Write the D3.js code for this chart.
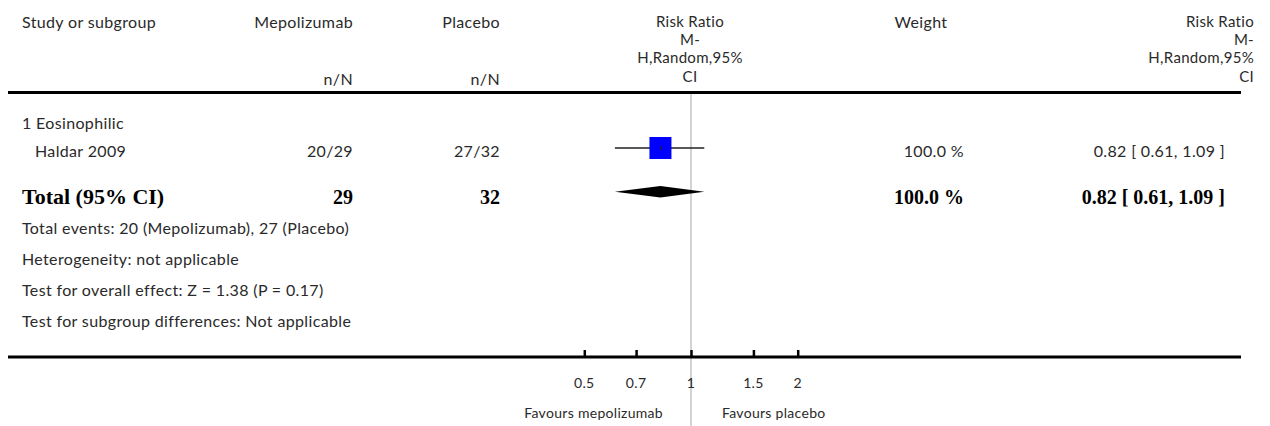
<!DOCTYPE html>
<html>
<head>
<meta charset="utf-8">
<script src="https://cdn.jsdelivr.net/npm/d3@7"></script>
<style>
  html, body { margin: 0; padding: 0; background: #fff; }
  svg { display: block; }
  .t { font-family: Lato, "Open Sans", sans-serif; font-size: 16px; letter-spacing: 0.35px; fill: #2a2a2a; }
  .h { font-family: Lato, "Open Sans", sans-serif; font-size: 15px; letter-spacing: 0.3px; fill: #2a2a2a; }
  .s { font-family: Lato, "Open Sans", sans-serif; font-size: 14px; letter-spacing: 0.3px; fill: #2a2a2a; }
  .b { font-family: "Liberation Serif", "DejaVu Serif", serif; font-size: 20px; font-weight: bold; fill: #000; }
</style>
</head>
<body>
<svg id="chart" width="1270" height="426"></svg>
<script>
// ---- data ----
const subgroups = ["1 Eosinophilic"];
const studies = ["Haldar 2009"];
const eventsTreat = [20];
const totalTreat = [29];
const eventsCtrl = [27];
const totalCtrl = [32];
const riskRatio = [0.82];
const ciLower = [0.61];
const ciUpper = [1.09];
const weights = [100.0];
const pooled = [0.82, 0.61, 1.09];   // estimate, lower, upper
const pooledTotals = [29, 32];
const pooledWeight = [100.0];
const axisTicks = [0.5, 0.7, 1, 1.5, 2];
const tickLabels = ["0.5", "0.7", "1", "1.5", "2"];
const favourLabels = ["Favours mepolizumab", "Favours placebo"];
const footnotes = [
  "Total events: 20 (Mepolizumab), 27 (Placebo)",
  "Heterogeneity: not applicable",
  "Test for overall effect: Z = 1.38 (P = 0.17)",
  "Test for subgroup differences: Not applicable"
];

// ---- layout ----
const svg = d3.select("#chart");
const x = d3.scaleLog().domain([0.5, 2]).range([584.3, 797.7]);
const boxSize = d3.scaleSqrt().domain([0, 100]).range([0, 22]);
const fmt = d3.format(".2f");
const fmtW = d3.format(".1f");

const colStudy = 22, colT = 353, colC = 500, colW = 964, colRR = 1225;

function txt(cls, xx, yy, s, anchor) {
  return svg.append("text").attr("class", cls).attr("x", xx).attr("y", yy)
    .attr("text-anchor", anchor || "start").text(s);
}

// header
txt("t", colStudy, 28, "Study or subgroup");
txt("t", colT, 28, "Mepolizumab", "end");
txt("t", colC, 28, "Placebo", "end");
txt("t", colT, 85, "n/N", "end");
txt("t", colC, 85, "n/N", "end");
const rrHead = ["Risk Ratio", "M-", "H,Random,95%", "CI"];
const rrHeadY = [27, 45, 63, 82];
rrHead.forEach((s, i) => {
  txt("h", 690, rrHeadY[i], s, "middle");
  txt("h", 1254, rrHeadY[i], s, "end");
});
txt("t", 921, 28, "Weight", "middle");

// reference line at RR = 1
svg.append("line").attr("x1", x(1)).attr("x2", x(1)).attr("y1", 94).attr("y2", 426)
  .attr("stroke", "#c4c4c4").attr("stroke-width", 1.5);

// rules
svg.append("line").attr("x1", 8).attr("x2", 1241).attr("y1", 92.5).attr("y2", 92.5)
  .attr("stroke", "#000").attr("stroke-width", 3);

// subgroup + studies
txt("t", colStudy, 129, subgroups[0]);
studies.forEach((s, i) => {
  const y = 157;
  txt("t", 35, y, s);
  txt("t", colT, y, eventsTreat[i] + "/" + totalTreat[i], "end");
  txt("t", colC, y, eventsCtrl[i] + "/" + totalCtrl[i], "end");
  txt("t", colW, y, fmtW(weights[i]) + " %", "end");
  txt("t", colRR, y, fmt(riskRatio[i]) + " [ " + fmt(ciLower[i]) + ", " + fmt(ciUpper[i]) + " ]", "end");
  const cy = 148;
  svg.append("line").attr("x1", x(ciLower[i])).attr("x2", x(ciUpper[i]))
    .attr("y1", cy).attr("y2", cy).attr("stroke", "#222").attr("stroke-width", 1.5);
  const bs = boxSize(weights[i]);
  svg.append("rect").attr("x", x(riskRatio[i]) - bs / 2).attr("y", cy - bs / 2)
    .attr("width", bs).attr("height", bs).attr("fill", "#0000ff");
  svg.append("line").attr("x1", x(riskRatio[i])).attr("x2", x(riskRatio[i]))
    .attr("y1", cy - 2.5).attr("y2", cy + 2.5).attr("stroke", "#222").attr("stroke-width", 1.2);
});

// total row
txt("b", colStudy, 204, "Total (95% CI)").style("font-size", "22px");
txt("b", colT, 204, pooledTotals[0], "end");
txt("b", colC, 204, pooledTotals[1], "end");
txt("b", colW, 204, fmtW(pooledWeight[0]) + " %", "end");
txt("b", colRR, 204, fmt(pooled[0]) + " [ " + fmt(pooled[1]) + ", " + fmt(pooled[2]) + " ]", "end");
const dy = 191.8, dh = 5.8;
svg.append("path")
  .attr("d", d3.line()([
    [x(pooled[1]), dy], [x(pooled[0]), dy - dh], [x(pooled[2]), dy], [x(pooled[0]), dy + dh]
  ]) + "Z")
  .attr("fill", "#000");

// footnotes
footnotes.forEach((s, i) => txt("t", colStudy, 234 + i * 31, s));

// bottom axis
svg.append("line").attr("x1", 8).attr("x2", 1241).attr("y1", 357).attr("y2", 357)
  .attr("stroke", "#000").attr("stroke-width", 3);
const axisG = svg.append("g").attr("transform", "translate(0,356)");
const axis = d3.axisTop(x).tickValues(axisTicks).tickSize(6).tickFormat("");
axisG.call(axis);
axisG.select(".domain").remove();
axisG.selectAll(".tick line").attr("stroke", "#000").attr("stroke-width", 2.5);
axisTicks.forEach((v, i) => txt("s", x(v), 388, tickLabels[i], "middle"));
txt("s", x(1) - 28, 418, favourLabels[0], "end");
txt("s", x(1) + 31, 418, favourLabels[1], "start");
</script>
</body>
</html>
